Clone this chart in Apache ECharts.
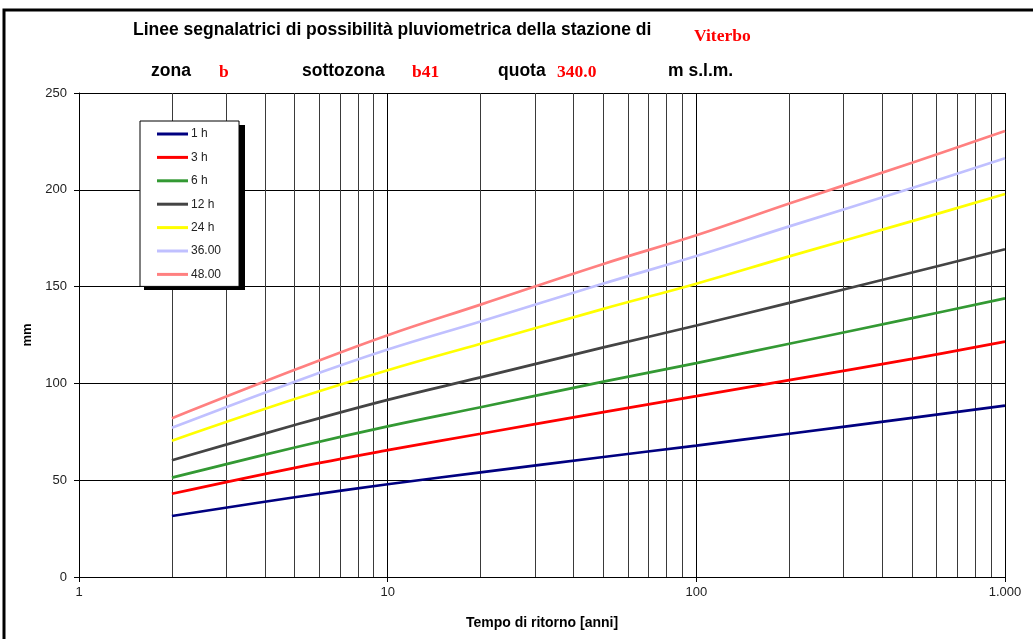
<!DOCTYPE html>
<html>
<head>
<meta charset="utf-8">
<script src="https://cdn.jsdelivr.net/npm/echarts@6/dist/echarts.min.js"></script>
<style>html,body{margin:0;padding:0;background:#fff}#c{width:1033px;height:639px}</style>
</head>
<body>
<div id="c"></div>
<script>
// Return periods (years)
const returnPeriods = [2, 5, 10, 20, 50, 100, 200, 500, 1000];
// Rainfall depth (mm) per duration
const h1 = [31.5, 41.2, 47.9, 54.0, 62.0, 67.9, 74.0, 82.2, 88.5];
const h3 = [43.0, 56.4, 65.5, 74.0, 85.2, 93.4, 101.7, 112.7, 121.6];
const h6 = [51.3, 66.9, 77.8, 87.7, 100.9, 110.5, 120.5, 133.7, 143.9];
const h12 = [60.3, 78.5, 91.5, 103.1, 118.6, 129.9, 141.6, 157.3, 169.3];
const h24 = [70.4, 91.9, 106.8, 120.5, 138.5, 151.5, 165.6, 183.8, 197.8];
const h36 = [77.1, 100.9, 117.5, 132.0, 151.6, 165.8, 181.1, 200.9, 216.3];
const h48 = [82.0, 107.0, 124.9, 140.7, 161.7, 176.5, 192.9, 214.0, 230.4];
const seriesNames = ['1 h', '3 h', '6 h', '12 h', '24 h', '36.00', '48.00'];
const seriesValues = [h1, h3, h6, h12, h24, h36, h48];
const seriesColors = ['#000080', '#ff0000', '#339933', '#444444', '#ffff00', '#c0c0ff', '#ff8080'];
// Axis ticks
const xMajorTicks = [1, 10, 100, 1000];
const xTickLabels = ['1', '10', '100', '1.000'];
const xMinorTicks = [2, 3, 4, 5, 6, 7, 8, 9, 20, 30, 40, 50, 60, 70, 80, 90, 200, 300, 400, 500, 600, 700, 800, 900];

const chart = echarts.init(document.getElementById('c'), null, {renderer: 'canvas'});

const series = seriesNames.map((name, i) => ({
  name: name,
  type: 'line',
  data: returnPeriods.map((t, j) => [t, seriesValues[i][j]]),
  showSymbol: false,
  symbol: 'none',
  smooth: 0.4,
  lineStyle: {color: seriesColors[i], width: 2.7},
  itemStyle: {color: seriesColors[i]},
  z: 5,
  silent: true
}));
// minor vertical grid lines
series.unshift({
  name: 'grid',
  type: 'line',
  data: [],
  z: 1,
  silent: true,
  markLine: {
    silent: true,
    symbol: ['none', 'none'],
    label: {show: false},
    lineStyle: {color: '#3a3a3a', width: 1, type: 'solid'},
    animation: false,
    data: xMinorTicks.map(v => ({xAxis: v}))
  }
});

const ttl = {fontFamily: 'Liberation Sans', fontWeight: 'bold', fontSize: 17.5, fill: '#000'};
const red = {fontFamily: 'Liberation Serif', fontWeight: 'bold', fontSize: 17.5, fill: '#ff0000'};

chart.setOption({
  animation: false,
  backgroundColor: '#fff',
  grid: {left: 79, right: 28, top: 93, bottom: 62, containLabel: false},
  xAxis: {
    type: 'log',
    logBase: 10,
    min: 1,
    max: 1000,
    name: 'Tempo di ritorno [anni]',
    nameLocation: 'middle',
    nameGap: 39,
    nameTextStyle: {fontFamily: 'Liberation Sans', fontWeight: 'bold', fontSize: 14, color: '#000'},
    axisLine: {show: true, lineStyle: {color: '#000', width: 1}},
    axisTick: {show: true, length: 5, lineStyle: {color: '#000'}},
    axisLabel: {
      fontFamily: 'Liberation Sans', fontSize: 13, color: '#222', margin: 9,
      formatter: v => { const k = xMajorTicks.indexOf(Math.round(v)); return k >= 0 ? xTickLabels[k] : ''; }
    },
    splitLine: {show: true, lineStyle: {color: '#000', width: 1}},
    minorTick: {show: false},
    minorSplitLine: {show: false}
  },
  yAxis: {
    type: 'value',
    min: 0,
    max: 250,
    interval: 50,
    name: 'mm',
    nameLocation: 'middle',
    nameGap: 40,
    nameRotate: 90,
    nameTextStyle: {fontFamily: 'Liberation Sans', fontWeight: 'bold', fontSize: 13, color: '#000'},
    axisLine: {show: true, lineStyle: {color: '#000', width: 1}},
    axisTick: {show: true, length: 5, lineStyle: {color: '#000'}},
    axisLabel: {fontFamily: 'Liberation Sans', fontSize: 13, color: '#222', margin: 12},
    splitLine: {show: true, lineStyle: {color: '#000', width: 1}}
  },
  legend: {
    show: true,
    orient: 'vertical',
    left: 140,
    top: 121,
    z: 10,
    data: seriesNames,
    icon: 'rect',
    itemWidth: 31,
    itemHeight: 3,
    itemGap: 9.4,
    padding: [6, 18, 5, 17],
    backgroundColor: '#fff',
    borderColor: '#000',
    borderWidth: 1,
    borderRadius: 0,
    selectedMode: false,
    textStyle: {fontFamily: 'Liberation Sans', fontSize: 12, color: '#222', lineHeight: 14, padding: [0, 0, 0, -2]}
  },
  graphic: [
    {type: 'rect', shape: {x: 4, y: 10, width: 1200, height: 800}, style: {fill: null, stroke: '#000', lineWidth: 3}, silent: true, z: 100},
    {type: 'rect', shape: {x: 144, y: 125, width: 101, height: 165}, style: {fill: '#000'}, silent: true, z: 9},
    {type: 'text', left: 133, top: 21, style: Object.assign({text: 'Linee segnalatrici di possibilità pluviometrica della stazione di'}, ttl)},
    {type: 'text', left: 694, top: 27, style: Object.assign({text: 'Viterbo'}, red)},
    {type: 'text', left: 151, top: 62, style: Object.assign({text: 'zona'}, ttl)},
    {type: 'text', left: 219, top: 63, style: Object.assign({text: 'b'}, red)},
    {type: 'text', left: 302, top: 62, style: Object.assign({text: 'sottozona'}, ttl)},
    {type: 'text', left: 412, top: 63, style: Object.assign({text: 'b41'}, red)},
    {type: 'text', left: 498, top: 62, style: Object.assign({text: 'quota'}, ttl)},
    {type: 'text', left: 557, top: 63, style: Object.assign({text: '340.0'}, red)},
    {type: 'text', left: 668, top: 62, style: Object.assign({text: 'm s.l.m.'}, ttl)}
  ],
  series: series
});
</script>
</body>
</html>
